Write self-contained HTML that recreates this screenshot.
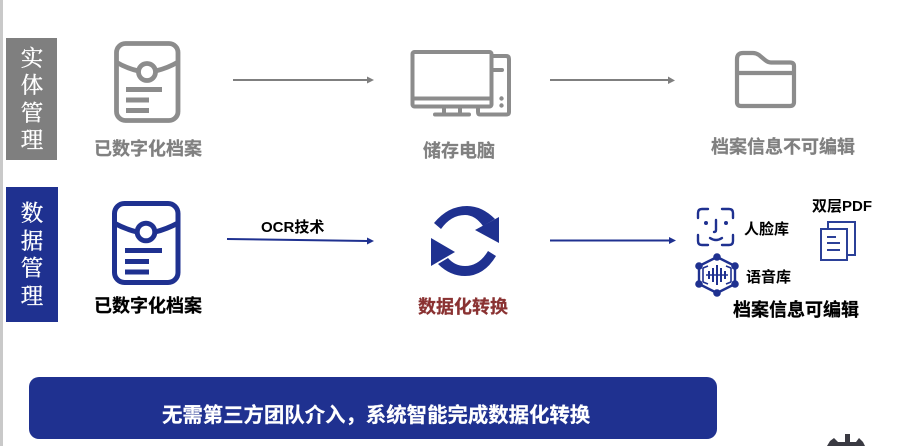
<!DOCTYPE html>
<html><head><meta charset="utf-8">
<style>
html,body{margin:0;padding:0;background:#fff;width:897px;height:446px;overflow:hidden}
svg{display:block}
text{font-family:"Liberation Sans","Noto Sans CJK SC",sans-serif}
.s{font-family:"Liberation Serif","Noto Serif CJK SC",serif;font-size:22.500px;fill:#fff;stroke:#fff;stroke-width:.35;text-anchor:middle}
.b{font-weight:700;font-size:18px;stroke-width:.25}
.m{font-weight:700;font-size:15px;fill:#000}
</style></head><body>
<svg width="897" height="446" viewBox="0 0 897 446" xmlns="http://www.w3.org/2000/svg">
<rect x="0" y="0" width="3" height="446" fill="#c9c9c9"/>
<rect x="6" y="38" width="51" height="122" fill="#7f7f7f"/>
<rect x="6" y="187" width="52" height="135" fill="#1f3190"/>
<text class="s" x="32" y="66">实</text><text class="s" x="32" y="93">体</text><text class="s" x="32" y="121">管</text><text class="s" x="32" y="148">理</text>
<text class="s" x="32" y="221">数</text><text class="s" x="32" y="249">据</text><text class="s" x="32" y="276">管</text><text class="s" x="32" y="304">理</text>

<!-- gray archive icon -->
<g fill="none" stroke="#8c8c8c" stroke-width="4.800">
<rect x="116.500" y="43.500" width="61.500" height="77" rx="9"/>
<circle cx="147" cy="72" r="8.500"/>
<path d="M116 62Q126 68 138.500 71M155.500 71Q168 68 178 62"/>
</g>
<g fill="#8c8c8c"><rect x="126" y="87" width="36" height="5"/><rect x="126" y="97.500" width="23" height="5"/><rect x="126" y="108" width="23" height="5"/></g>

<!-- blue archive icon -->
<g fill="none" stroke="#1f3190" stroke-width="5">
<rect x="114.500" y="203.500" width="63.500" height="79" rx="10"/>
<circle cx="146" cy="232" r="8.800"/>
<path d="M114 223Q125 229 137 232M155 232Q167 229 178 223"/>
</g>
<g fill="#1f3190"><rect x="125" y="248" width="37" height="5"/><rect x="125" y="259" width="24" height="5"/><rect x="125" y="269.500" width="24" height="5"/></g>

<!-- gray arrows -->
<g stroke="#7f7f7f" stroke-width="2" fill="#7f7f7f">
<line x1="233" y1="80" x2="368" y2="80"/><path d="M367 76.500L374 80L367 83.500Z" stroke="none"/>
<line x1="550" y1="80" x2="669" y2="80"/><path d="M668 76.500L675 80.500L668 84Z" stroke="none"/>
</g>
<!-- blue arrows -->
<g stroke="#1f3190" stroke-width="2" fill="#1f3190">
<line x1="227" y1="239" x2="368" y2="241"/><path d="M367 237.500L374 241L367 244.500Z" stroke="none"/>
<line x1="550" y1="240.500" x2="670" y2="240.500"/><path d="M669 237L676 240.500L669 244Z" stroke="none"/>
</g>

<!-- computer -->
<g fill="none" stroke="#8c8c8c" stroke-width="4" stroke-linecap="round" stroke-linejoin="round">
<rect x="412.500" y="52" width="79" height="54.500" rx="2"/>
<line x1="413" y1="98.500" x2="491" y2="98.500"/>
<path d="M493 56H506Q509 56 509 59V112Q509 114.500 506 114.500H480Q478 114.500 478 112V108"/>
<line x1="493" y1="70" x2="502" y2="70"/>
<path d="M444 108V114M460 108V114"/>
<line x1="435" y1="114.500" x2="469" y2="114.500"/>
</g>
<circle cx="501.500" cy="98.500" r="2.200" fill="#8c8c8c"/><circle cx="501.500" cy="105.500" r="2.200" fill="#8c8c8c"/>

<!-- folder -->
<g fill="none" stroke="#8c8c8c" stroke-width="4.200" stroke-linejoin="round">
<path d="M737 59Q737 53 743 53H753Q756 53 759 55L765 60Q768 62.500 771 62.500H790Q794 62.500 794 66V102Q794 106 790 106H741Q737 106 737 102Z"/>
<line x1="737" y1="73" x2="794" y2="73"/>
</g>

<!-- sync icon -->
<g fill="#1f3190">
<path d="M434 223Q448 206 467 206Q482 206 495 219L483 226Q475 215 465 215Q451 215 441 229Z"/>
<path d="M475 230L499 217V243Z"/>
<path d="M496 256Q484 276 465 276Q450 276 438 264L448 258Q455 266 465 266Q479 266 488 251Z"/>
<path d="M431 238L455 252L431 266Z"/>
</g>

<!-- face icon -->
<g fill="none" stroke="#1f3190" stroke-width="2.400" stroke-linecap="round">
<path d="M698 218V213Q698 209 702 209H708"/>
<path d="M722 209H729Q733 209 733 213V218"/>
<path d="M698 235V241Q698 245 702 245H708"/>
<path d="M722 245H729Q733 245 733 241V235"/>
<path d="M716 220V230Q716 232 714 232"/>
<path d="M710 238Q716 242 722 238"/>
</g>
<circle cx="706" cy="223" r="2" fill="#1f3190"/><circle cx="726" cy="223" r="2" fill="#1f3190"/>

<!-- voice hex icon -->
<g fill="none" stroke="#1f3190">
<path d="M717 257L735 266V284L717 293L699 284V266Z" stroke-width="2.400"/>
<path d="M703 268L708 266M731 268L726 266M703 282L708 284M731 282L726 284M703 268V282M731 268V282" stroke-width="1.600"/>
<path d="M706 275H728" stroke-width="1.600"/>
<path d="M709 271V279M713 268V282M717 265V285M721 268V282M725 271V279" stroke-width="2"/>
</g>
<g fill="#1f3190"><circle cx="717" cy="257" r="3.800"/><circle cx="735" cy="266" r="3.800"/><circle cx="735" cy="284" r="3.800"/><circle cx="717" cy="293" r="3.800"/><circle cx="699" cy="284" r="3.800"/><circle cx="699" cy="266" r="3.800"/></g>

<!-- doc icon -->
<g fill="none" stroke="#2b4098" stroke-width="2">
<path d="M828 228V222H855V255H847"/>
<rect x="821" y="229" width="26" height="31" fill="#fff"/>
<path d="M827 237H836M827 243H840M827 250H840"/>
</g>

<!-- labels -->
<text class="b" x="94" y="155" fill="#808080" stroke="#808080">已数字化档案</text>
<text class="b" x="423" y="157" fill="#808080" stroke="#808080">储存电脑</text>
<text class="b" x="711" y="153" fill="#808080" stroke="#808080">档案信息不可编辑</text>
<text class="b" x="94" y="312" fill="#000" stroke="#000">已数字化档案</text>
<text class="b" x="418" y="313" fill="#8a3232" stroke="#8a3232">数据化转换</text>
<text class="b" x="733" y="316" fill="#000" stroke="#000">档案信息可编辑</text>
<text class="m" x="261" y="232">OCR技术</text>
<text class="m" x="744" y="234">人脸库</text>
<text class="m" x="746" y="282">语音库</text>
<text class="m" x="812" y="211">双层PDF</text>

<!-- banner -->
<rect x="29" y="377" width="688" height="62" rx="10" fill="#1f3190"/>
<text x="162" y="422" fill="#fff" stroke="#fff" stroke-width=".2" style="font-weight:700;font-size:20.400px">无需第三方团队介入，系统智能完成数据化转换</text>

<!-- cropped dark icon at bottom -->
<path d="M827 446L830 441L834 438L838 442L845 442L845 434H850L850 442L856 442L859 438L863 442L865 446Z" fill="#3a3a42"/>
</svg>
</body></html>
